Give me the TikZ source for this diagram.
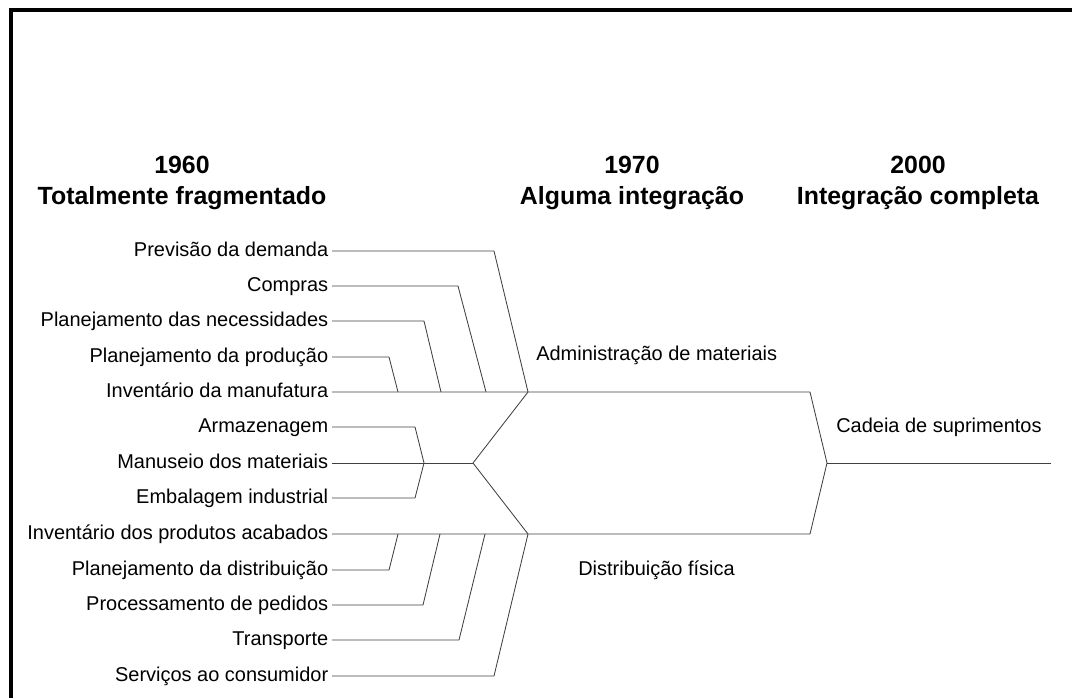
\documentclass[tikz,border=0pt]{standalone}
\usepackage{fontspec}
\setmainfont{Liberation Sans}

\tikzset{
  lbl/.style={anchor=east, inner sep=2.5pt, text height=0.95em, text depth=0.23em,
              font=\fontsize{14.2}{16}\selectfont},
  grp/.style={anchor=west, inner sep=0pt, text height=0.95em, text depth=0.23em,
              font=\fontsize{14.2}{16}\selectfont},
  hdr/.style={align=center, inner sep=0pt, font=\fontsize{17.7}{22}\selectfont\bfseries},
  wire/.style={draw=black!75, line width=0.6pt, line join=round}
}

\begin{document}
\begin{tikzpicture}[x=0.025cm, y=-0.025cm]

        \useasboundingbox (0,0) rectangle (1072,698);

        %===========================
        % Frame
        %===========================

        \draw[line width=2.2pt] (11,698) -- (11,10) -- (1072,10);

        %===========================
        % Headers
        %===========================

        \draw node (h1960) at (182,183) [hdr]{1960\\Totalmente fragmentado};
        \draw node (h1970) at (632,183) [hdr]{1970\\Alguma integração};
        \draw node (h2000) at (918,183) [hdr]{2000\\Integração completa};

        %===========================
        % Activities
        %===========================

        \draw node (prev)    at (332,251) [lbl]{Previsão da demanda};
        \draw node (comp)    at (332,286) [lbl]{Compras};
        \draw node (plnec)   at (332,321) [lbl]{Planejamento das necessidades};
        \draw node (plprod)  at (332,357) [lbl]{Planejamento da produção};
        \draw node (invman)  at (332,392) [lbl]{Inventário da manufatura};
        \draw node (arm)     at (332,427) [lbl]{Armazenagem};
        \draw node (man)     at (332,463) [lbl]{Manuseio dos materiais};
        \draw node (emb)     at (332,498) [lbl]{Embalagem industrial};
        \draw node (invprod) at (332,534) [lbl]{Inventário dos produtos acabados};
        \draw node (pldist)  at (332,570) [lbl]{Planejamento da distribuição};
        \draw node (proc)    at (332,605) [lbl]{Processamento de pedidos};
        \draw node (transp)  at (332,640) [lbl]{Transporte};
        \draw node (serv)    at (332,676) [lbl]{Serviços ao consumidor};

        %===========================
        % Groups
        %===========================

        \draw node (adm)  at (536,355) [grp]{Administração de materiais};
        \draw node (dist) at (578,570) [grp]{Distribuição física};
        \draw node (sc)   at (836,427) [grp]{Cadeia de suprimentos};

        % junctions and bends
        \coordinate (admJ)  at (528,392);
        \coordinate (distJ) at (528,534);
        \coordinate (midJ)  at (473,463);
        \coordinate (armJ)  at (424,463);
        \coordinate (scJ)   at (827,463);
        \coordinate (scEnd) at (1051,463);
        \coordinate (admR)  at (810,392);
        \coordinate (distR) at (810,534);

        \coordinate (prevB)   at (494,251);  \coordinate (prevT)   at (528,392);
        \coordinate (compB)   at (458,286);  \coordinate (compT)   at (486,392);
        \coordinate (plnecB)  at (424,321);  \coordinate (plnecT)  at (441,392);
        \coordinate (plprodB) at (389,357);  \coordinate (plprodT) at (398,392);
        \coordinate (armB)    at (415,427);  \coordinate (embB)    at (415,498);
        \coordinate (pldistB) at (389,570);  \coordinate (pldistT) at (398,534);
        \coordinate (procB)   at (423,605);  \coordinate (procT)   at (440,534);
        \coordinate (transpB) at (459,640);  \coordinate (transpT) at (485,534);
        \coordinate (servB)   at (494,676);  \coordinate (servT)   at (528,534);

        % Top side
        \draw[wire] (prev.east) -- (prevB) -- (prevT);
        \draw[wire] (comp.east) -- (compB) -- (compT);
        \draw[wire] (plnec.east) -- (plnecB) -- (plnecT);
        \draw[wire] (plprod.east) -- (plprodB) -- (plprodT);
        \draw[wire] (invman.east) -- (admJ) -- (admR) -- (scJ);

        % Middle
        \draw[wire] (arm.east) -- (armB) -- (armJ);
        \draw[wire] (emb.east) -- (embB) -- (armJ);
        \draw[wire] (man.east) -- (midJ);
        \draw[wire] (admJ) -- (midJ) -- (distJ);

        % Bottom side
        \draw[wire] (invprod.east) -- (distJ) -- (distR) -- (scJ);
        \draw[wire] (pldist.east) -- (pldistB) -- (pldistT);
        \draw[wire] (proc.east) -- (procB) -- (procT);
        \draw[wire] (transp.east) -- (transpB) -- (transpT);
        \draw[wire] (serv.east) -- (servB) -- (servT);

        \draw[wire] (scJ) -- (scEnd);
\end{tikzpicture}
\end{document}
